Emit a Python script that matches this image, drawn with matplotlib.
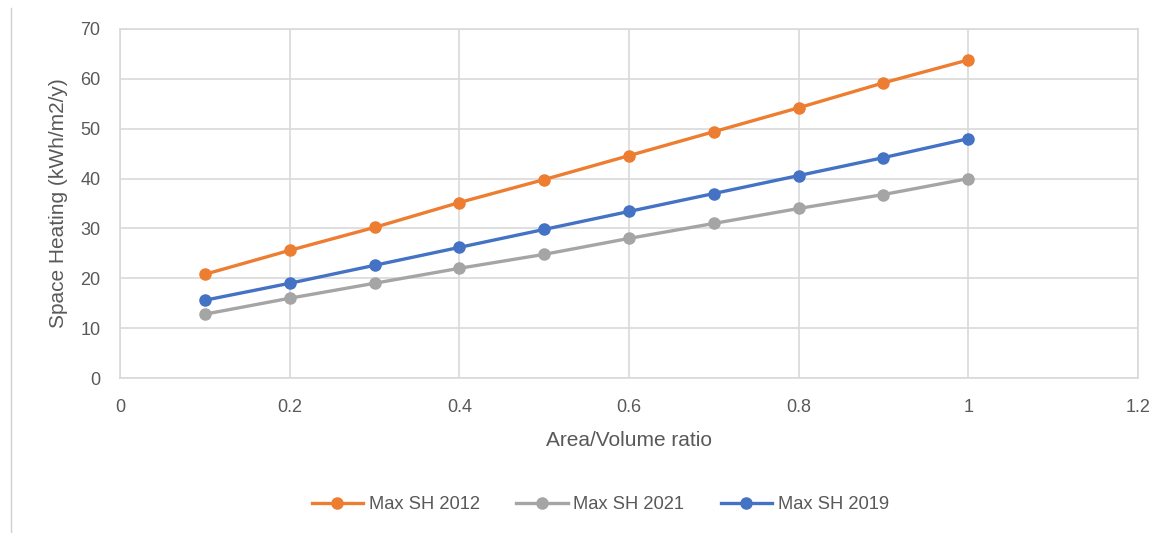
import numpy as np
import matplotlib.pyplot as plt
from matplotlib.lines import Line2D

# values
av_ratio = [0.1, 0.2, 0.3, 0.4, 0.5, 0.6, 0.7, 0.8, 0.9, 1.0]
sh_2012 = [20.8, 25.6, 30.2, 35.2, 39.8, 44.6, 49.4, 54.2, 59.2, 63.8]
sh_2021 = [12.8, 16.0, 19.0, 22.0, 24.8, 28.0, 31.0, 34.0, 36.8, 40.0]
sh_2019 = [15.6, 19.0, 22.6, 26.2, 29.8, 33.4, 37.0, 40.6, 44.2, 48.0]

plt.rcParams['font.family'] = ['Liberation Sans', 'DejaVu Sans']
txt_col = '#595959'
grid_col = '#d9d9d9'

fig = plt.figure(figsize=(11.7, 5.33), dpi=100)
ax = fig.add_axes([0.1026, 0.2908, 0.870, 0.6548])

ax.plot(av_ratio, sh_2012, color='#ed7d31', lw=2.4, marker='o', ms=8, label='Max SH 2012')
ax.plot(av_ratio, sh_2021, color='#a5a5a5', lw=2.4, marker='o', ms=8, label='Max SH 2021')
ax.plot(av_ratio, sh_2019, color='#4472c4', lw=2.4, marker='o', ms=8, label='Max SH 2019')

ax.set_xlim(0, 1.2)
ax.set_ylim(0, 70)
ax.set_xticks([0, 0.2, 0.4, 0.6, 0.8, 1.0, 1.2])
ax.set_xticklabels(['0', '0.2', '0.4', '0.6', '0.8', '1', '1.2'])
ax.set_yticks(range(0, 71, 10))
ax.grid(True, color=grid_col, lw=1.2)
ax.set_axisbelow(True)
for s in ax.spines.values():
    s.set_color(grid_col)
    s.set_linewidth(1.2)
ax.tick_params(length=0, colors=txt_col, labelsize=13)
ax.tick_params(axis='x', pad=15)
ax.tick_params(axis='y', pad=14)

ax.set_xlabel('Area/Volume ratio', color=txt_col, fontsize=15, labelpad=11)
ax.set_ylabel('Space Heating (kWh/m2/y)', color=txt_col, fontsize=15, labelpad=9)

fig.legend(loc='center', bbox_to_anchor=(0.513, 0.053), ncol=3, frameon=False,
           fontsize=13.2, labelcolor=txt_col, handlelength=2.8, columnspacing=2.0,
           handletextpad=0.3)

# thin border line on the left edge, as in the screenshot
fig.add_artist(Line2D([0.0094, 0.0094], [0.0, 0.985], color='#d0d0d0', lw=1,
                      transform=fig.transFigure))

fig.savefig('out.png', dpi=100)
